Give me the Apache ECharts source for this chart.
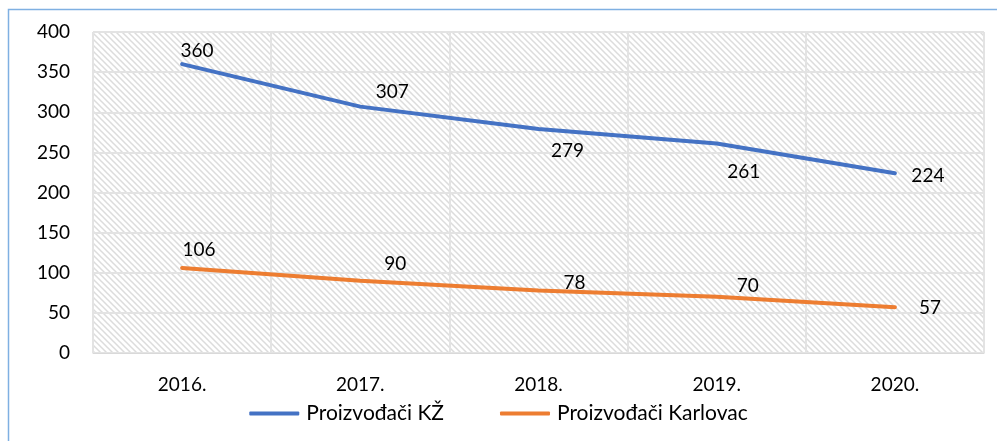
<!DOCTYPE html>
<html>
<head>
<meta charset="utf-8">
<script src="https://cdn.jsdelivr.net/npm/echarts@6/dist/echarts.min.js"></script>
<style>
  html, body { margin: 0; padding: 0; background: #fff; }
  #chart { width: 997px; height: 441px; }
</style>
</head>
<body>
<div id="chart"></div>
<script>
// Years on the horizontal axis
const years = ['2016.', '2017.', '2018.', '2019.', '2020.'];
// Number of producers per year
const seriesNames = ['Proizvođači KŽ', 'Proizvođači Karlovac'];
const producersKZ = [360, 307, 279, 261, 224];
const producersKarlovac = [106, 90, 78, 70, 57];
// Vertical axis ticks
const yTicks = [0, 50, 100, 150, 200, 250, 300, 350, 400];

// Label placement relative to each point (pixels)
const labelOffsetsKZ = [[15, -13], [32, -15], [29, 22], [27, 28], [33, 3]];
const labelOffsetsKarlovac = [[17, -18], [35, -17], [36, -8], [31, -11], [35, 1]];

// Hatched fill for the plot area
function hatchPattern() {
  const s = 6;
  const c = document.createElement('canvas');
  c.width = s; c.height = s;
  const g = c.getContext('2d');
  g.fillStyle = '#ffffff';
  g.fillRect(0, 0, s, s);
  g.strokeStyle = '#dcdcdc';
  g.lineWidth = 1.5;
  g.beginPath();
  g.moveTo(-1, -1); g.lineTo(s + 1, s + 1);
  g.moveTo(-1, s - 1); g.lineTo(1, s + 1);
  g.moveTo(s - 1, -1); g.lineTo(s + 1, 1);
  g.stroke();
  return { image: c, repeat: 'repeat' };
}

function withLabels(values, offsets) {
  return values.map((v, i) => ({
    value: v,
    label: { offset: offsets[i] }
  }));
}

const font = 'Lato, "Open Sans", sans-serif';
const chart = echarts.init(document.getElementById('chart'), null, { renderer: 'canvas' });

const lineSeries = (name, values, offsets, color) => ({
  name: name,
  type: 'line',
  data: withLabels(values, offsets),
  symbol: 'circle',
  symbolSize: 1,
  showSymbol: true,
  lineStyle: { color: color, width: 4, cap: 'round' },
  itemStyle: { color: color },
  label: {
    show: true,
    position: 'inside',
    color: '#000',
    fontFamily: font,
    fontSize: 19
  },
  emphasis: { disabled: true },
  animation: false
});

chart.setOption({
  animation: false,
  grid: {
    left: 93, right: 13, top: 32, bottom: 88,
    show: true,
    backgroundColor: hatchPattern(),
    borderColor: '#d9d9d9',
    borderWidth: 1
  },
  legend: {
    data: seriesNames,
    bottom: 12,
    left: 'center',
    itemWidth: 50,
    itemHeight: 4,
    itemGap: 56,
    icon: 'roundRect',
    textStyle: { fontFamily: font, fontSize: 21, color: '#000', padding: [0, 0, 0, 2] }
  },
  xAxis: {
    type: 'category',
    data: years,
    boundaryGap: true,
    axisLine: { show: true, lineStyle: { color: '#d9d9d9', width: 1 } },
    axisTick: { show: false },
    splitLine: { show: true, lineStyle: { color: '#e3e3e3', width: 2 } },
    axisLabel: { color: '#000', fontFamily: font, fontSize: 19, margin: 22 }
  },
  yAxis: {
    type: 'value',
    min: yTicks[0],
    max: yTicks[yTicks.length - 1],
    interval: yTicks[1] - yTicks[0],
    axisLine: { show: false },
    axisTick: { show: false },
    splitLine: { show: true, lineStyle: { color: '#e3e3e3', width: 2 } },
    axisLabel: { color: '#000', fontFamily: font, fontSize: 19, margin: 23 }
  },
  graphic: [{
    type: 'rect',
    shape: { x: 8.5, y: 9.5, width: 1000, height: 500 },
    style: { fill: null, stroke: '#7fb0e2', lineWidth: 1.5 },
    silent: true
  }],
  series: [
    lineSeries(seriesNames[0], producersKZ, labelOffsetsKZ, '#4472c4'),
    lineSeries(seriesNames[1], producersKarlovac, labelOffsetsKarlovac, '#ed7d31')
  ]
});
</script>
</body>
</html>
